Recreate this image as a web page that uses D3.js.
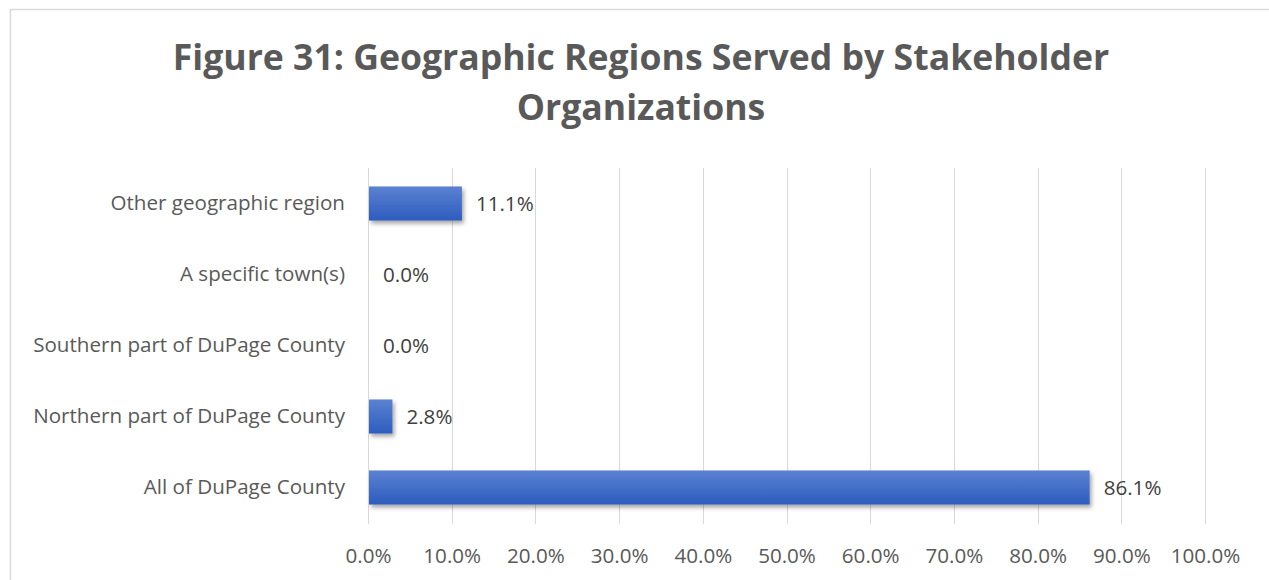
<!DOCTYPE html>
<html>
<head>
<meta charset="utf-8">
<script src="https://cdn.jsdelivr.net/npm/d3@7"></script>
<style>
  html, body { margin: 0; padding: 0; background: #fff; }
  svg { display: block; font-family: "Open Sans", "Noto Sans", sans-serif; }
</style>
</head>
<body>
<svg id="chart" width="1269" height="580"></svg>
<script>
const titleLines = ['Figure 31: Geographic Regions Served by Stakeholder', 'Organizations'];
const categories = ['Other geographic region', 'A specific town(s)', 'Southern part of DuPage County', 'Northern part of DuPage County', 'All of DuPage County'];
const values = [0.111, 0.0, 0.0, 0.028, 0.861];
const xTicks = [0, 0.1, 0.2, 0.3, 0.4, 0.5, 0.6, 0.7, 0.8, 0.9, 1.0];

const svg = d3.select('#chart');
const margin = { top: 168, right: 64, bottom: 57, left: 368 };
const width = 1269, height = 580;

const defs = svg.append('defs');
const grad = defs.append('linearGradient').attr('id', 'barFill').attr('x1', 0).attr('y1', 0).attr('x2', 0).attr('y2', 1);
grad.append('stop').attr('offset', '0%').attr('stop-color', '#5b82d1');
grad.append('stop').attr('offset', '100%').attr('stop-color', '#2d5cbe');
const shadow = defs.append('filter').attr('id', 'barShadow').attr('x', '-10%').attr('y', '-20%').attr('width', '130%').attr('height', '160%');
shadow.append('feDropShadow').attr('dx', 2).attr('dy', 3).attr('stdDeviation', 2).attr('flood-color', '#000').attr('flood-opacity', 0.35);

// chart frame, cropped on the right and bottom
svg.append('rect').attr('x', 10.5).attr('y', 9.5).attr('width', 1400).attr('height', 700)
  .attr('fill', 'none').attr('stroke', '#d9d9d9').attr('stroke-width', 1.5);

const x = d3.scaleLinear().domain([0, 1]).range([margin.left, width - margin.right]);
const y = d3.scaleBand().domain(categories).range([margin.top, height - margin.bottom]).paddingInner(0.52).paddingOuter(0.26);

const title = svg.append('g').attr('class', 'title');
titleLines.forEach((line, i) => {
  title.append('text').attr('x', 641).attr('y', 70 + i * 50).attr('text-anchor', 'middle')
    .attr('fill', '#595959').attr('font-weight', 700).attr('font-size', 35.6).text(line);
});

const grid = svg.append('g').attr('class', 'grid');
grid.selectAll('line').data(xTicks).join('line')
  .attr('x1', d => Math.round(x(d)) + 0.5).attr('x2', d => Math.round(x(d)) + 0.5)
  .attr('y1', margin.top).attr('y2', height - margin.bottom + 1)
  .attr('stroke', '#d9d9d9').attr('stroke-width', 1);

const xAxis = svg.append('g').attr('transform', `translate(0,${height - margin.bottom})`)
  .call(d3.axisBottom(x).tickValues(xTicks).tickFormat(d3.format('.1%')).tickSize(0).tickPadding(25))
  .attr('font-family', null).attr('font-size', null);
xAxis.select('.domain').remove();
xAxis.selectAll('text').attr('fill', '#595959').attr('font-size', 20.6);

const yAxis = svg.append('g').attr('transform', `translate(${margin.left},0)`)
  .call(d3.axisLeft(y).tickSize(0).tickPadding(23))
  .attr('font-family', null).attr('font-size', null);
yAxis.select('.domain').remove();
yAxis.selectAll('text').attr('fill', '#595959').attr('font-size', 20.6);

const bars = svg.append('g').attr('class', 'bars');
bars.selectAll('rect').data(categories.map((c, i) => ({ c, v: values[i] }))).join('rect')
  .attr('x', x(0) + 1).attr('y', d => y(d.c))
  .attr('width', d => Math.max(0, x(d.v) - x(0)))
  .attr('height', y.bandwidth())
  .attr('fill', 'url(#barFill)')
  .attr('filter', d => d.v > 0 ? 'url(#barShadow)' : null);

svg.append('g').attr('class', 'labels').selectAll('text')
  .data(categories.map((c, i) => ({ c, v: values[i] }))).join('text')
  .attr('x', d => x(d.v) + 15).attr('y', d => y(d.c) + y.bandwidth() / 2)
  .attr('dy', '0.35em').attr('fill', '#404040').attr('font-size', 20.6)
  .text(d => d3.format('.1%')(d.v));
</script>
</body>
</html>
